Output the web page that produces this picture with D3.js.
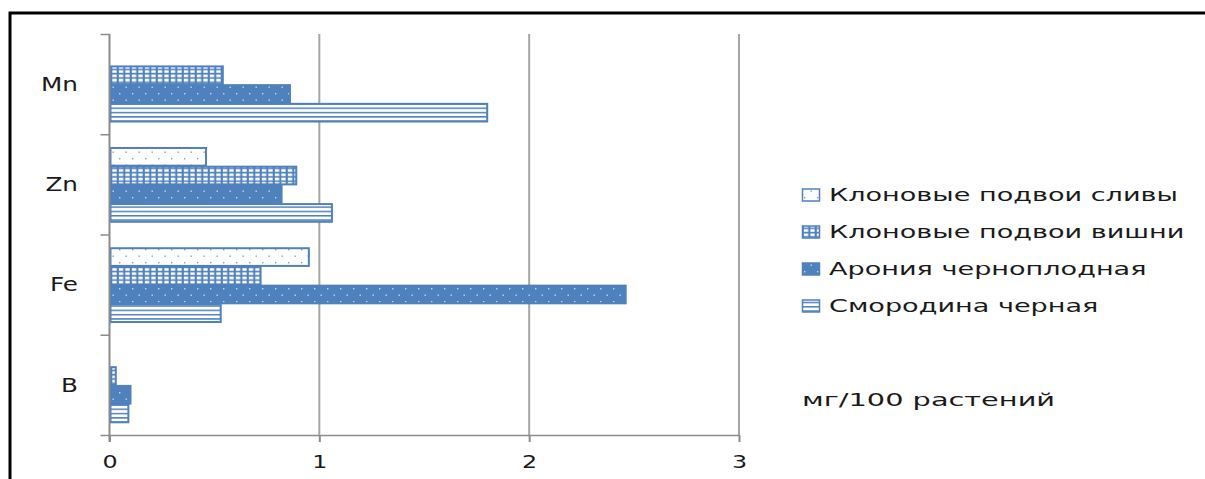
<!DOCTYPE html>
<html>
<head>
<meta charset="utf-8">
<script src="https://cdn.jsdelivr.net/npm/d3@7"></script>
<style>
  html, body { margin: 0; padding: 0; background: #fff; }
  svg { display: block; }
  text { font-family: "DejaVu Sans", Verdana, sans-serif; fill: #1a1a1a; }
</style>
</head>
<body>
<svg id="chart" width="1205" height="479"></svg>
<script>
// Microelement content, mg per 100 plants
const categories = ["Mn", "Zn", "Fe", "B"];
const seriesNames = [
  "Клоновые подвои сливы",
  "Клоновые подвои вишни",
  "Арония черноплодная",
  "Смородина черная"
];
const slivaValues     = [0,    0.46, 0.95, 0];
const vishniValues    = [0.54, 0.89, 0.72, 0.03];
const aroniaValues    = [0.86, 0.82, 2.46, 0.10];
const smorodinaValues = [1.80, 1.06, 0.53, 0.09];
const xTicks = [0, 1, 2, 3];
const unitLabel = "мг/100 растений";

const seriesValues = [slivaValues, vishniValues, aroniaValues, smorodinaValues];
const patternIds = ["pSliva", "pVishni", "pAronia", "pSmorodina"];
const blue = "#4f81bd";

const svg = d3.select("#chart");

// fill patterns
const defs = svg.append("defs");
// sparse blue dots on white
let p = defs.append("pattern").attr("id", "pSliva").attr("patternUnits", "userSpaceOnUse")
  .attr("width", 13).attr("height", 13);
p.append("rect").attr("width", 13).attr("height", 13).attr("fill", "#fff");
p.append("rect").attr("x", 2).attr("y", 2).attr("width", 1.4).attr("height", 1.4).attr("fill", "#7f9fcf");
p.append("rect").attr("x", 8.5).attr("y", 8.5).attr("width", 1.4).attr("height", 1.4).attr("fill", "#7f9fcf");
// white grid cells on blue
p = defs.append("pattern").attr("id", "pVishni").attr("patternUnits", "userSpaceOnUse")
  .attr("width", 6.5).attr("height", 4.3);
p.append("rect").attr("width", 6.5).attr("height", 4.3).attr("fill", blue);
p.append("rect").attr("x", 1.8).attr("y", 1.4).attr("width", 4.4).attr("height", 2.7).attr("fill", "#fff");
// light dots on blue
p = defs.append("pattern").attr("id", "pAronia").attr("patternUnits", "userSpaceOnUse")
  .attr("width", 13).attr("height", 13);
p.append("rect").attr("width", 13).attr("height", 13).attr("fill", blue);
p.append("rect").attr("x", 2).attr("y", 2).attr("width", 1.4).attr("height", 1.4).attr("fill", "#c9d7ec");
p.append("rect").attr("x", 8.5).attr("y", 8.5).attr("width", 1.4).attr("height", 1.4).attr("fill", "#c9d7ec");
// horizontal stripes
p = defs.append("pattern").attr("id", "pSmorodina").attr("patternUnits", "userSpaceOnUse")
  .attr("width", 8).attr("height", 4.3);
p.append("rect").attr("width", 8).attr("height", 4.3).attr("fill", "#fff");
p.append("rect").attr("y", 0).attr("width", 8).attr("height", 1.5).attr("fill", blue);

// outer frame
svg.append("rect")
  .attr("x", 10).attr("y", 13).attr("width", 1210).attr("height", 490)
  .attr("fill", "none").attr("stroke", "#000").attr("stroke-width", 3);

// scales
const x = d3.scaleLinear().domain([0, 3]).range([109.5, 739]);
const y = d3.scaleBand().domain(categories).range([34, 435]).padding(0);
const ySub = d3.scaleBand().domain(d3.range(seriesNames.length))
  .range([0, y.bandwidth()]).paddingInner(0).paddingOuter(0.68);

// vertical gridlines
svg.append("g").selectAll("line")
  .data(xTicks.filter(d => d > 0))
  .join("line")
  .attr("x1", d => x(d)).attr("x2", d => x(d))
  .attr("y1", 34).attr("y2", 435)
  .attr("stroke", "#a6a6a6").attr("stroke-width", 2);

// bars
const rows = [];
categories.forEach((c, ci) => {
  seriesValues.forEach((vals, si) => {
    if (vals[ci] > 0) rows.push({ cat: c, s: si, v: vals[ci] });
  });
});
svg.append("g").selectAll("rect")
  .data(rows)
  .join("rect")
  .attr("x", x(0) + 1)
  .attr("y", d => y(d.cat) + ySub(d.s) + 1)
  .attr("width", d => Math.max(0, x(d.v) - x(0) - 1))
  .attr("height", ySub.bandwidth() - 1)
  .attr("fill", d => `url(#${patternIds[d.s]})`)
  .attr("stroke", blue)
  .attr("stroke-width", 2);

// x axis
const xAxis = svg.append("g")
  .attr("transform", "translate(0,435)")
  .call(d3.axisBottom(x).tickValues(xTicks).tickFormat(d3.format("d")).tickSize(7).tickSizeOuter(0));
xAxis.select(".domain").attr("stroke", "#8c8c8c").attr("stroke-width", 1.5);
xAxis.selectAll(".tick line").attr("stroke", "#8c8c8c").attr("stroke-width", 2);
xAxis.selectAll(".tick text")
  .attr("dy", 0).attr("y", null)
  .attr("transform", "translate(0,33) scale(1.4,1)")
  .style("font-size", "17px").style("font-family", "DejaVu Sans, sans-serif").attr("fill", "#1a1a1a");

// y axis boundaries between categories
const yEdge = d3.scaleLinear().domain([0, categories.length]).range([34, 435]);
const yAxis = svg.append("g")
  .attr("transform", `translate(${x(0)},0)`)
  .call(d3.axisLeft(yEdge).tickValues(d3.range(categories.length + 1)).tickFormat("").tickSize(9).tickSizeOuter(0));
yAxis.select(".domain").attr("stroke", "#8c8c8c").attr("stroke-width", 2)
  .attr("d", `M0,34V442`);
yAxis.selectAll(".tick line").attr("stroke", "#8c8c8c").attr("stroke-width", 1.5);

// category labels
const yLab = svg.append("g")
  .attr("transform", "translate(78,0)")
  .call(d3.axisLeft(y).tickSize(0));
yLab.select(".domain").remove();
yLab.selectAll(".tick text")
  .attr("x", null).attr("dy", "0.36em").attr("text-anchor", "end")
  .attr("transform", "scale(1.3,1)")
  .style("font-size", "19px").style("font-family", "DejaVu Sans, sans-serif").attr("fill", "#1a1a1a");

// legend
const legend = svg.append("g").attr("transform", "translate(802,0)");
const legendY = d3.scalePoint().domain(d3.range(seriesNames.length)).range([195, 306]);
const li = legend.selectAll("g").data(seriesNames).join("g")
  .attr("transform", (d, i) => `translate(0,${legendY(i)})`);
li.append("rect")
  .attr("x", 0.5).attr("y", -6).attr("width", 17).attr("height", 12)
  .attr("fill", (d, i) => `url(#${patternIds[i]})`)
  .attr("stroke", blue).attr("stroke-width", 1.5);
li.append("text")
  .attr("dy", "0.35em")
  .attr("transform", "translate(27,0) scale(1.48,1)")
  .style("font-size", "18.3px")
  .text(d => d);

// unit label
svg.append("text")
  .attr("dy", "0.35em")
  .attr("transform", "translate(802,400) scale(1.6,1)")
  .style("font-size", "18px")
  .text(unitLabel);
</script>
</body>
</html>
